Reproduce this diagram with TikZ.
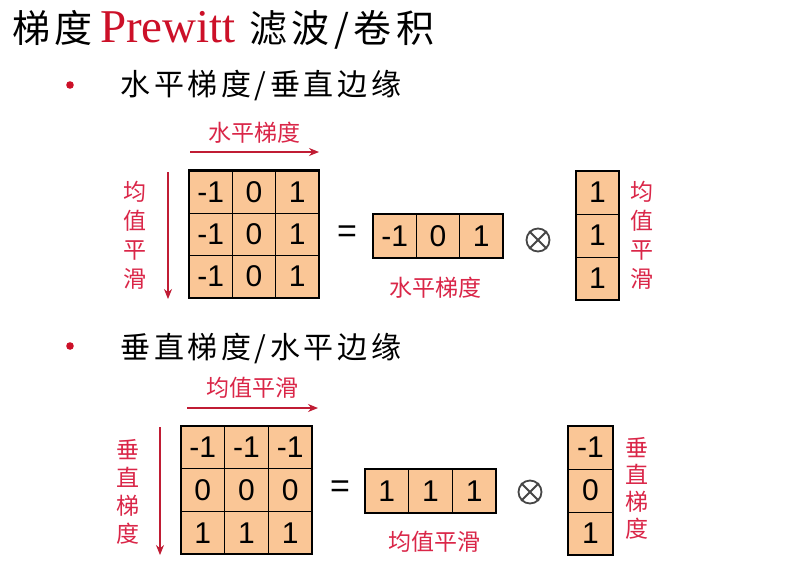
\documentclass[tikz,border=0pt]{standalone}
\usepackage{fontspec}
\usetikzlibrary{arrows.meta}
\newfontfamily\cjkfont{Noto Sans CJK SC}
\newfontfamily\cjkwide{Noto Sans CJK SC}[LetterSpace=12]
\newfontfamily\numfont{Liberation Sans}
\newfontfamily\prewittfont{Liberation Serif}
\definecolor{labelred}{RGB}{218,38,72}
\definecolor{arrowred}{RGB}{192,28,52}
\definecolor{titlered}{RGB}{204,16,40}
\definecolor{cellfill}{RGB}{250,198,150}
\definecolor{opgray}{RGB}{70,70,70}
\begin{document}
\begin{tikzpicture}[x=1pt,y=-1pt,
  cell/.style={draw,line width=0.6pt,fill=cellfill,inner sep=0pt,
    minimum width=43pt,minimum height=42pt,
    font=\numfont\fontsize{30}{30}\selectfont},
  frame/.style={line width=2.2pt},
  redlabel/.style={labelred,font=\cjkfont\fontsize{23}{29}\selectfont,align=center},
  redarrow/.style={arrowred,line width=1.2pt,-{Stealth[length=10pt,width=8pt]}},
  bullettext/.style={anchor=west,font=\cjkwide\fontsize{30}{30}\selectfont},
  oper/.style={font=\numfont\fontsize{34}{34}\selectfont},
  otimes/.style={circle,draw=opgray,line width=1.8pt,minimum size=23pt,inner sep=0pt}]
  \useasboundingbox (0,0) rectangle (797,566);
  \fill[white] (0,0) rectangle (797,566);

  % Title
  \node[anchor=base west,inner sep=0pt,font=\cjkwide\fontsize{38}{38}\selectfont] (t1) at (12,42) {梯度};
  \node[anchor=base west,inner sep=0pt,titlered,font=\prewittfont\fontsize{47}{47}\selectfont] (t2) at (100,42) {Prewitt};
  \node[anchor=base west,inner sep=0pt,font=\cjkwide\fontsize{38}{38}\selectfont] (t3) at (249,42) {滤波/卷积};

  % Bullets
  \fill[titlered] (70,85) circle (3.8);
  \node[bullettext] (b1) at (117,86) {水平梯度/垂直边缘};
  \fill[titlered] (70,346) circle (3.8);
  \node[bullettext] (b2) at (117,348) {垂直梯度/水平边缘};

  % Horizontal gradient kernel
  \foreach \row [count=\r] in {{-1,0,1},{-1,0,1},{-1,0,1}}
    \foreach \v [count=\c] in \row
      \node[cell,minimum width=43.3pt,minimum height=42.3pt] (gx-\r-\c) at ({210.7+43.3*(\c-1)},{192+42.3*(\r-1)}) {\v};
  \draw[frame] (gx-1-1.north west) rectangle (gx-3-3.south east);
  \coordinate (gxh1) at (190,152);
  \coordinate (gxh2) at (319,152);
  \draw[redarrow] (gxh1) -- (gxh2);
  \node[redlabel] (gxtop) at (254,133) {水平梯度};
  \coordinate (gxv1) at (168,172);
  \coordinate (gxv2) at (168,299);
  \draw[redarrow] (gxv1) -- (gxv2);
  \node[redlabel] (gxleft) at (135,235) {均\\值\\平\\滑};

  \node[oper] (eq1) at (347,234) {=};
  \foreach \v [count=\c] in {-1,0,1}
    \node[cell,minimum width=43.3pt,minimum height=44pt] (rx-\c) at ({394.7+43.3*(\c-1)},236) {\v};
  \draw[frame] (rx-1.north west) rectangle (rx-3.south east);
  \node[redlabel] (rxlab) at (435,288) {水平梯度};

  \node[otimes] (ot1) at (538,240) {};
  \draw[opgray,line width=1.8pt] (ot1.45) -- (ot1.225) (ot1.135) -- (ot1.315);
  \foreach \v [count=\r] in {1,1,1}
    \node[cell,minimum width=43pt,minimum height=43pt] (cx-\r) at (597.5,{192.5+43*(\r-1)}) {\v};
  \draw[frame] (cx-1.north west) rectangle (cx-3.south east);
  \node[redlabel] (cxlab) at (642,235) {均\\值\\平\\滑};

  % Vertical gradient kernel
  \foreach \row [count=\r] in {{-1,-1,-1},{0,0,0},{1,1,1}}
    \foreach \v [count=\c] in \row
      \node[cell,minimum width=43.7pt,minimum height=42.7pt] (gy-\r-\c) at ({202.8+43.7*(\c-1)},{447.3+42.7*(\r-1)}) {\v};
  \draw[frame] (gy-1-1.north west) rectangle (gy-3-3.south east);
  \coordinate (gyh1) at (187,408);
  \coordinate (gyh2) at (318,408);
  \draw[redarrow] (gyh1) -- (gyh2);
  \node[redlabel] (gytop) at (252,388) {均值平滑};
  \coordinate (gyv1) at (160,427);
  \coordinate (gyv2) at (160,555);
  \draw[redarrow] (gyv1) -- (gyv2);
  \node[redlabel,font=\cjkfont\fontsize{23}{28}\selectfont] (gyleft) at (128,492) {垂\\直\\梯\\度};

  \node[oper] (eq2) at (340,489) {=};
  \foreach \v [count=\c] in {1,1,1}
    \node[cell,minimum width=43.7pt,minimum height=44pt] (ry-\c) at ({386.8+43.7*(\c-1)},491) {\v};
  \draw[frame] (ry-1.north west) rectangle (ry-3.south east);
  \node[redlabel] (rylab) at (434,542) {均值平滑};

  \node[otimes] (ot2) at (530,492) {};
  \draw[opgray,line width=1.8pt] (ot2.45) -- (ot2.225) (ot2.135) -- (ot2.315);
  \foreach \v [count=\r] in {-1,0,1}
    \node[cell,minimum width=45pt,minimum height=43pt] (cy-\r) at (590.5,{447.5+43*(\r-1)}) {\v};
  \draw[frame] (cy-1.north west) rectangle (cy-3.south east);
  \node[redlabel,font=\cjkfont\fontsize{23}{27}\selectfont] (cylab) at (637,488) {垂\\直\\梯\\度};
\end{tikzpicture}
\end{document}
